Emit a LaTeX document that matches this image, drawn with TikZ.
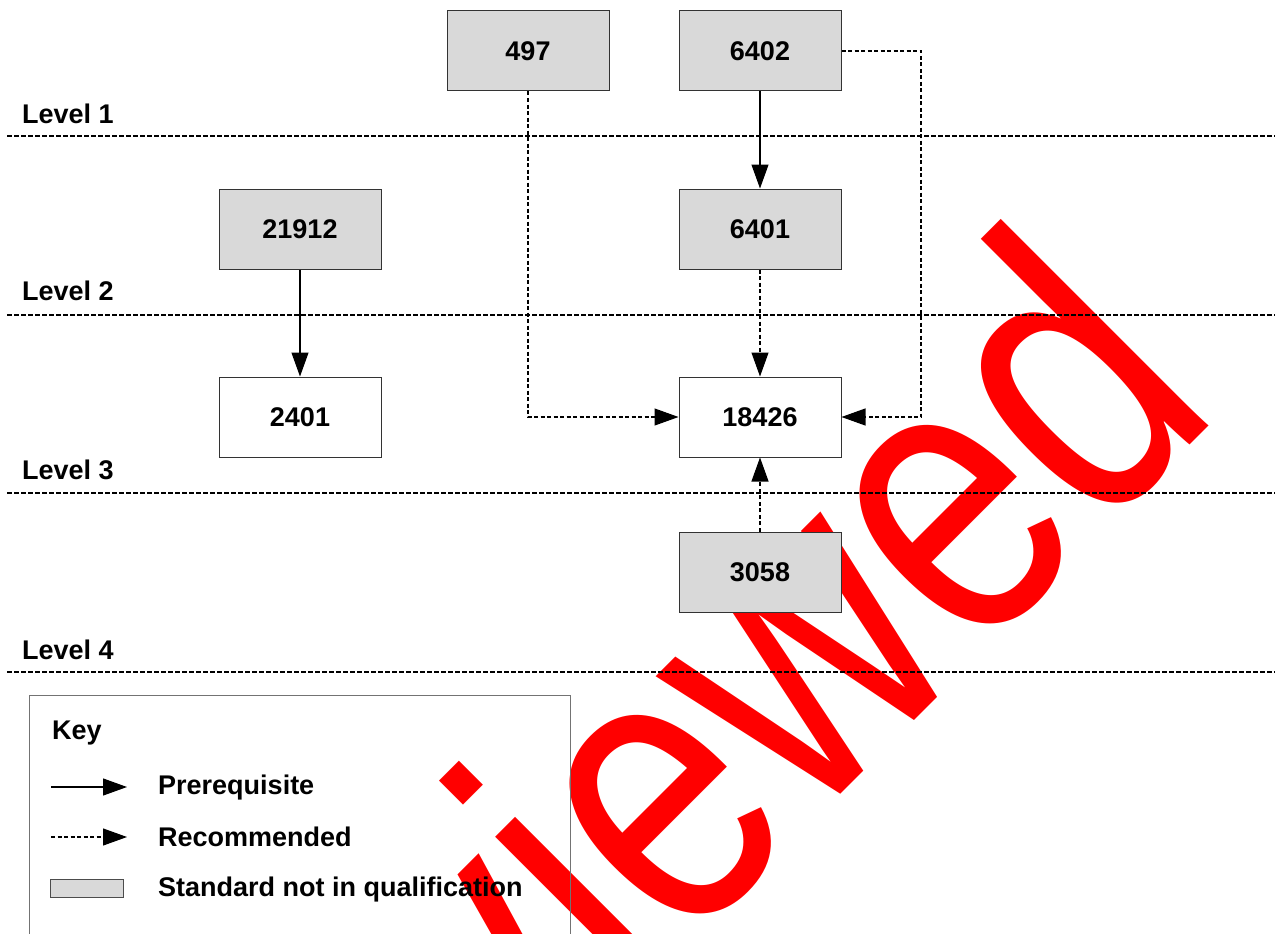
\documentclass[tikz,border=0pt]{standalone}
\usepackage{fontspec}
\setmainfont{Liberation Sans}
\usetikzlibrary{arrows.meta,calc}
\definecolor{boxgray}{HTML}{D9D9D9}
\definecolor{wmred}{HTML}{FF0000}
\tikzset{
  lbl/.style={font=\fontsize{27}{32}\selectfont\bfseries, inner sep=0pt},
  unit/.style={draw=black!80, line width=1pt, minimum width=162pt, minimum height=80pt,
    inner sep=0pt, font=\fontsize{27}{32}\selectfont\bfseries},
  grayunit/.style={unit, fill=boxgray},
  whiteunit/.style={unit, fill=white},
  levelline/.style={line width=1.2pt, dash pattern=on 4.5pt off 2.5pt},
  prereq/.style={line width=1.2pt, -{Triangle[length=24pt,width=17pt]}},
  recom/.style={line width=1.1pt, dash pattern=on 4pt off 2.5pt, -{Triangle[length=24pt,width=17pt]}},
}
\begin{document}
\begin{tikzpicture}[x=1pt,y=-1pt]
\useasboundingbox (0,0) rectangle (1275,934);
% watermark
\begin{scope}
\clip (0,0) rectangle (1275,934);
\node[rotate=45, anchor=base, inner sep=0pt, text=wmred, font=\fontsize{321}{321}\selectfont] (wm) at (726,909) {\scalebox{1}[1.26]{Reviewed}};
\end{scope}
% level lines
\coordinate (l1a) at (7,136); \coordinate (l1b) at (1275,136);
\coordinate (l2a) at (7,315); \coordinate (l2b) at (1275,315);
\coordinate (l3a) at (7,493); \coordinate (l3b) at (1275,493);
\coordinate (l4a) at (7,672); \coordinate (l4b) at (1275,672);
\draw[levelline] (l1a) -- (l1b);
\draw[levelline] (l2a) -- (l2b);
\draw[levelline] (l3a) -- (l3b);
\draw[levelline] (l4a) -- (l4b);
\node[lbl, anchor=base west] (lev1) at (22,123.5) {Level 1};
\node[lbl, anchor=base west] (lev2) at (22,300) {Level 2};
\node[lbl, anchor=base west] (lev3) at (22,479.5) {Level 3};
\node[lbl, anchor=base west] (lev4) at (22,659.5) {Level 4};
% units
\node[grayunit] (n497) at (528,51) {497};
\node[grayunit] (n6402) at (760,51) {6402};
\node[grayunit] (n21912) at (300,229) {21912};
\node[grayunit] (n6401) at (760,229) {6401};
\node[whiteunit] (n2401) at (300,417) {2401};
\node[whiteunit] (n18426) at (760,417) {18426};
\node[grayunit] (n3058) at (760,572) {3058};
\coordinate (turn) at (921,417);
% connectors
\draw[prereq] (n6402.south) -- (n6401.north);
\draw[prereq] (n21912.south) -- (n2401.north);
\draw[recom] (n6401.south) -- (n18426.north);
\draw[recom] (n497.south) |- (n18426.west);
\draw[recom] (n6402.east) -| (turn) -- (n18426.east);
\draw[recom] (n3058.north) -- (n18426.south);
% key
\node[draw=black!55, line width=1pt, minimum width=541pt, minimum height=260pt, anchor=north west, inner sep=0pt] (keybox) at (29,695) {};
\node[lbl, anchor=base west] (keyt) at (52,739.3) {Key};
\coordinate (ka1) at (51,787); \coordinate (ka2) at (127,787);
\coordinate (kb1) at (51,837); \coordinate (kb2) at (127,837);
\draw[prereq] (ka1) -- (ka2);
\draw[recom] (kb1) -- (kb2);
\node[lbl, anchor=base west] (kpre) at (158,794.3) {Prerequisite};
\node[lbl, anchor=base west] (krec) at (158,846.7) {Recommended};
\node[draw=black!70, line width=1pt, fill=boxgray, minimum width=73pt, minimum height=18pt, inner sep=0pt] (kgray) at (86.5,888) {};
\node[lbl, anchor=base west] (kstd) at (158,896.7) {Standard not in qualification};
\end{tikzpicture}
\end{document}
